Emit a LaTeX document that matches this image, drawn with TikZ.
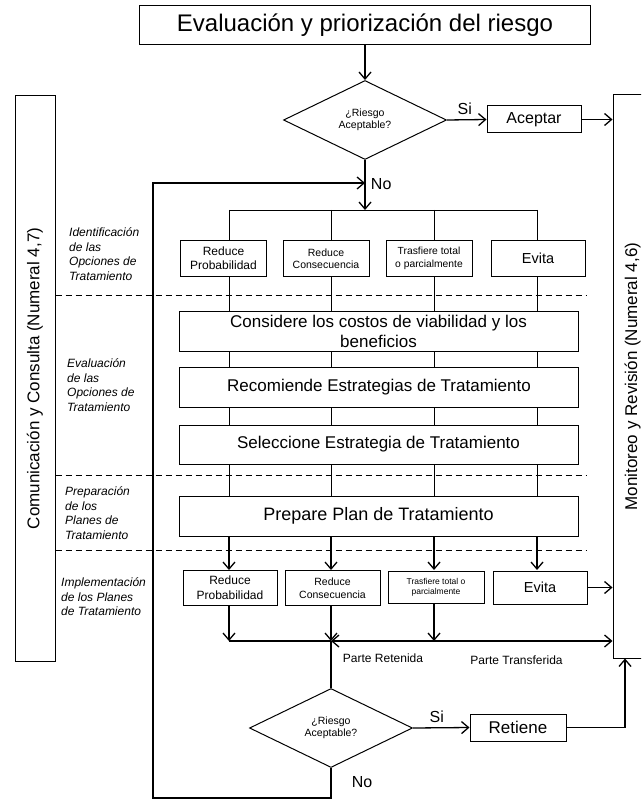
\documentclass[tikz,border=0pt]{standalone}
\usepackage{fontspec}
\setmainfont{Liberation Sans}
\usetikzlibrary{arrows.meta,shapes.geometric}
\tikzset{
  >={Straight Barb[length=7pt,width=12pt]},
  x=1pt, y=-1pt,
}
\tikzstyle{every node}=[font=\fontsize{16}{19}\selectfont]
\tikzstyle{box}=[draw, line width=1pt, align=center, inner sep=1pt]
\tikzstyle{step box}=[box, minimum width=399pt, minimum height=40pt, font=\fontsize{17}{20}\selectfont]
\tikzstyle{decision}=[draw, diamond, aspect=2, line width=1pt, align=center, inner sep=0pt,
  minimum width=163pt, minimum height=79pt, font=\fontsize{10.5}{12.5}\selectfont]
\tikzstyle{phase}=[anchor=west, align=left, inner sep=0pt, font=\fontsize{12}{14.6}\selectfont\itshape]
\tikzstyle{flow}=[line width=1.3pt]
\tikzstyle{lane}=[line width=0.9pt]
\tikzstyle{divider}=[line width=0.8pt, dash pattern=on 6pt off 4pt]

\begin{document}
\begin{tikzpicture}
  \useasboundingbox (0,0) rectangle (641,799);
  \clip (0,0) rectangle (641,799);

  \node[box, minimum width=451pt, minimum height=39pt, font=\fontsize{24}{28}\selectfont] (title) at (365,25.5) {Evaluación y priorización del riesgo};
  \node[decision] (d1) at (365,120) {¿Riesgo\\Aceptable?};
  \node[box, minimum width=94pt, minimum height=27pt] (acept) at (534,119.5) {Aceptar};

  % side columns
  \node[box, rotate=90, minimum width=565pt, minimum height=40pt, font=\fontsize{17}{20}\selectfont] (comm) at (35,378.5) {Comunicación y Consulta (Numeral 4,7)};
  \node[box, rotate=90, minimum width=563pt, minimum height=39pt, font=\fontsize{17}{20}\selectfont] (monit) at (632.5,376.5) {Monitoreo y Revisión (Numeral 4,6)};

  % lanes
  \coordinate (l1) at (229,0);
  \coordinate (l2) at (331,0);
  \coordinate (l3) at (434,0);
  \coordinate (l4) at (537,0);
  \coordinate (branch) at (365,210);
  \coordinate (join) at (331,641);

  \node[box, minimum width=86pt, minimum height=35pt, font=\fontsize{12}{14}\selectfont] (ida) at (223.5,258.5) {Reduce\\Probabilidad};
  \node[box, minimum width=86pt, minimum height=35pt, font=\fontsize{10.5}{12.5}\selectfont] (idb) at (326,258.5) {Reduce\\Consecuencia};
  \node[box, minimum width=86pt, minimum height=35pt, font=\fontsize{10.3}{13}\selectfont] (idc) at (429,258.5) {Trasfiere total\\o parcialmente};
  \node[box, minimum width=94pt, minimum height=35pt, font=\fontsize{14.5}{17}\selectfont] (idd) at (538,258.5) {Evita};

  \node[step box] (cons) at (378.5,331) {Considere los costos de viabilidad y los\\beneficios};
  \node[step box] (recom) at (379,387) {Recomiende Estrategias de Tratamiento};
  \node[step box, minimum height=39pt] (selec) at (378.5,444.5) {Seleccione Estrategia de Tratamiento};
  \node[step box, font=\fontsize{18}{21}\selectfont] (prep) at (378.5,516) {Prepare Plan de Tratamiento};

  \node[box, minimum width=94pt, minimum height=35pt, font=\fontsize{12}{15}\selectfont] (ima) at (230,588) {Reduce\\Probabilidad};
  \node[box, minimum width=95pt, minimum height=35pt, font=\fontsize{10.5}{13}\selectfont] (imb) at (332.5,588) {Reduce\\Consecuencia};
  \node[box, minimum width=96pt, minimum height=32pt, font=\fontsize{8.5}{10}\selectfont] (imc) at (436,587) {Trasfiere total o\\parcialmente};
  \node[box, minimum width=94pt, minimum height=33pt, font=\fontsize{14.5}{17}\selectfont] (imd) at (540,587.5) {Evita};

  \node[decision] (d2) at (331,728) {¿Riesgo\\Aceptable?};
  \node[box, minimum width=96pt, minimum height=27pt, font=\fontsize{17}{20}\selectfont] (reten) at (518,727.5) {Retiene};

  \node[font=\fontsize{12}{14}\selectfont] (retl) at (383,658) {Parte Retenida};
  \node[font=\fontsize{12}{14}\selectfont] (tranl) at (516.5,660) {Parte Transferida};

  \node[phase] (ph1) at (69,254) {Identificación\\de las\\Opciones de\\Tratamiento};
  \node[phase] (ph2) at (67,385) {Evaluación\\de las\\Opciones de\\Tratamiento};
  \node[phase] (ph3) at (65,513) {Preparación\\de los\\Planes de\\Tratamiento};
  \node[phase] (ph4) at (61,597) {Implementación\\de los Planes\\de Tratamiento};

  \draw[divider] (comm.south |- 0,295) -- (587,295);
  \draw[divider] (comm.south |- 0,475) -- (587,475);
  \draw[divider] (comm.south |- 0,550) -- (587,550);

  \draw[flow,->] (title) -- (d1);
  \draw[flow,->] (d1.east) -- node[above=1pt, pos=0.45]{Si} (acept.west);
  \draw[flow,->] (acept.east) -- (acept.east -| monit.north);
  \draw[flow,->] (d1.south) -- (branch) node[pos=0.48, right=2pt]{No};

  \draw[lane] (l1 |- branch) -- (l4 |- branch);
  \foreach \l in {l1,l2,l3,l4}{
    \draw[lane] (\l |- branch) -- (\l |- ida.north);
    \draw[lane] (\l |- ida.south) -- (\l |- cons.north);
    \draw[lane] (\l |- cons.south) -- (\l |- recom.north);
    \draw[lane] (\l |- recom.south) -- (\l |- selec.north);
    \draw[lane] (\l |- selec.south) -- (\l |- prep.north);
    \draw[flow,->] (\l |- prep.south) -- (\l |- ima.north);
  }

  \draw[flow,->] (l1 |- ima.south) -- (l1 |- join);
  \draw[flow,->] (l2 |- imb.south) -- (join);
  \draw[flow,->] (l3 |- imc.south) -- (l3 |- join);
  \draw[flow] (l1 |- join) -- (join);
  \draw[flow,<->] (join) -- (join -| monit.north);
  \draw[flow,->] (imd.east) -- (imd.east -| monit.north);
  \draw[flow] (join) -- (d2.north);

  \coordinate (rise) at (625,727.5);
  \draw[flow,->] (d2.east) -- node[above=1pt, pos=0.42]{Si} (reten.west);
  \draw[flow,->] (reten.east) -- (rise) -- (rise |- monit.west);

  % way back when the risk is still not acceptable
  \coordinate (loopbl) at (153,798);
  \coordinate (noin) at (365,183);
  \draw[flow,->] (d2.south) |- (loopbl) |- (noin);
  \node (no2) at (362,782) {No};
\end{tikzpicture}
\end{document}
